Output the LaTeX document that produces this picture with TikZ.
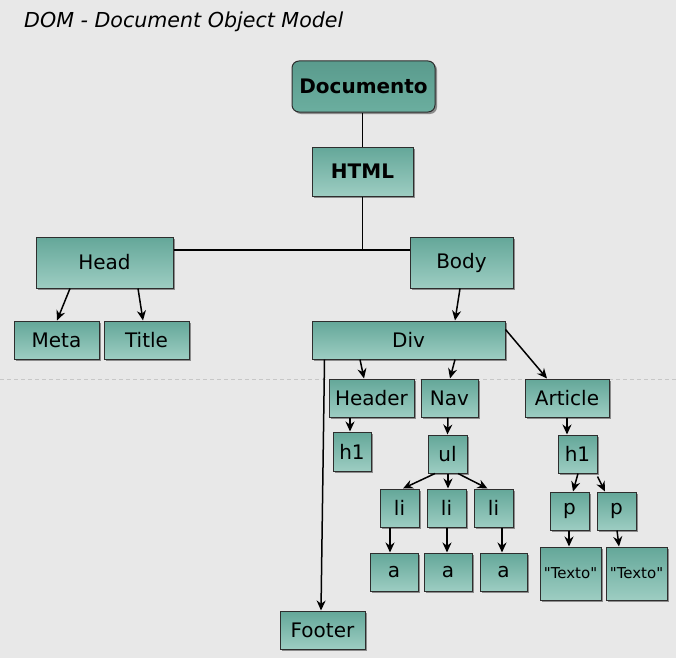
\documentclass[tikz,border=0pt]{standalone}
\usepackage{fontspec}
\setmainfont{DejaVu Sans}
\newfontfamily\qfont{DejaVu Sans}
\usetikzlibrary{shadows,arrows.meta,calc}
\definecolor{bg}{HTML}{E8E8E8}
\definecolor{boxtop}{HTML}{64A799}
\definecolor{boxbot}{HTML}{9DCDC2}
\definecolor{doctop}{HTML}{5A9B8D}
\definecolor{docbot}{HTML}{6BAE9F}
\definecolor{edge}{HTML}{2E2E2E}
\begin{document}
\begin{tikzpicture}[x=1pt,y=-1pt,
  box/.style={draw=edge, line width=1pt, top color=boxtop, bottom color=boxbot,
    inner sep=0pt, font=\fontsize{20}{24}\selectfont,
    drop shadow={shadow xshift=2pt, shadow yshift=-2pt, fill=black!60, opacity=0.7}},
  bigbox/.style={box, font=\fontsize{20}{24}\selectfont\bfseries},
  docbox/.style={bigbox, rounded corners=7pt, top color=doctop, bottom color=docbot},
  smallbox/.style={box, font=\qfont\fontsize{15}{18}\selectfont},
  link/.style={line width=1.5pt, black},
  arr/.style={link, -{Stealth[length=10pt,width=9pt]}}
]
\useasboundingbox (0,0) rectangle (676,658);
\fill[bg] (0,0) rectangle (676,658);
\coordinate (pbl) at (0,379);
\coordinate (pbr) at (676,379);
\draw[black!22, line width=0.6pt, dash pattern=on 4pt off 3pt] (pbl) -- (pbr);

\node[anchor=base west, inner sep=0pt, font=\fontsize{20.6}{25}\selectfont\itshape] (ttl) at (24,28) {DOM - Document Object Model};

\node[docbox, minimum width=143pt, minimum height=51pt] (doc) at (363.5,86.5) {Documento};
\node[bigbox, minimum width=101pt, minimum height=49pt] (html) at (362.5,171.5) {HTML};
\node[box, minimum width=137pt, minimum height=51pt] (head) at (104.5,262.5) {Head};
\node[box, minimum width=103pt, minimum height=51pt] (body) at (461.5,262.5) {Body};
\node[box, minimum width=85pt, minimum height=38pt] (meta) at (56.5,340) {Meta};
\node[box, minimum width=85pt, minimum height=38pt] (title) at (146.5,340) {Title};
\node[box, minimum width=193pt, minimum height=38pt] (div) at (408.5,340) {Div};
\node[box, minimum width=85pt, minimum height=38pt] (header) at (371.5,398) {Header};
\node[box, minimum width=57pt, minimum height=38pt] (nav) at (449.5,398) {Nav};
\node[box, minimum width=84pt, minimum height=38pt] (article) at (567,398) {Article};
\node[box, minimum width=38pt, minimum height=39pt] (h1a) at (352,451.5) {h1};
\node[box, minimum width=39pt, minimum height=38pt] (ul) at (447.5,454) {ul};
\node[box, minimum width=39pt, minimum height=38pt] (li1) at (399.5,508) {li};
\node[box, minimum width=39pt, minimum height=38pt] (li2) at (446.5,508) {li};
\node[box, minimum width=39pt, minimum height=38pt] (li3) at (493.5,508) {li};
\node[box, minimum width=48pt, minimum height=38pt] (a1) at (394,572) {a};
\node[box, minimum width=48pt, minimum height=38pt] (a2) at (448,572) {a};
\node[box, minimum width=47pt, minimum height=38pt] (a3) at (503.5,572) {a};
\node[box, minimum width=39pt, minimum height=38pt] (h1b) at (577.5,454) {h1};
\node[box, minimum width=39pt, minimum height=38pt] (p1) at (569.5,511) {p};
\node[box, minimum width=39pt, minimum height=38pt] (p2) at (616.5,511) {p};
\node[smallbox, minimum width=61pt, minimum height=53pt] (t1) at (570.5,573.5) {"Texto"};
\node[smallbox, minimum width=61pt, minimum height=53pt] (t2) at (636.5,573.5) {"Texto"};
\node[box, minimum width=85pt, minimum height=38pt] (footer) at (322.5,630) {Footer};

% plain links
\draw[link] (html.north |- doc.south) -- (html.north);
\coordinate (jn) at ($(head.east)+(0,-12.5)$);
\draw[link] (jn) -- ($(body.west)+(0,-12.5)$);
\draw[link] (html.south) -- (html.south |- jn);

% arrows
\draw[arr] ([xshift=-34.5pt]head.south) -- ([xshift=0.5pt]meta.north);
\draw[arr] ([xshift=33.5pt]head.south) -- ([xshift=-3.5pt]title.north);
\draw[arr] ([xshift=-1.5pt]body.south) -- ([xshift=46.5pt]div.north);
\draw[arr] ([xshift=-48.5pt]div.south) -- ([xshift=-7.5pt]header.north);
\draw[arr] ([xshift=46.5pt]div.south) -- ([xshift=0.5pt]nav.north);
\draw[arr] ([yshift=-9pt]div.north east) -- ([xshift=-20pt]article.north);
\draw[arr] ([xshift=13pt]div.south west) -- ([xshift=-1.5pt]footer.north);
\draw[arr] ([xshift=-21.5pt]header.south) -- ([xshift=-2pt]h1a.north);
\draw[arr] ([xshift=-1.5pt]nav.south) -- (ul.north);
\draw[arr] ([xshift=-12.5pt]ul.south) -- ([xshift=3.5pt]li1.north);
\draw[arr] ([xshift=0.5pt]ul.south) -- ([xshift=1.5pt]li2.north);
\draw[arr] ([xshift=10.5pt]ul.south) -- ([xshift=-6pt]li3.north);
\draw[arr] ([xshift=-9.5pt]li1.south) -- ([xshift=-4pt]a1.north);
\draw[arr] ([xshift=0.5pt]li2.south) -- ([xshift=-1pt]a2.north);
\draw[arr] ([xshift=8.5pt]li3.south) -- ([xshift=-1.5pt]a3.north);
\draw[arr] (article.south) -- ([xshift=-10.5pt]h1b.north);
\draw[arr] ([xshift=0.5pt]h1b.south) -- ([xshift=3.5pt]p1.north);
\draw[arr] ([yshift=-3pt]h1b.south east) -- ([xshift=-11.5pt]p2.north);
\draw[arr] ([xshift=-0.5pt]p1.south) -- ([xshift=-1.5pt]t1.north);
\draw[arr] ([xshift=0.5pt]p2.south) -- ([xshift=-17.5pt]t2.north);
\end{tikzpicture}
\end{document}
